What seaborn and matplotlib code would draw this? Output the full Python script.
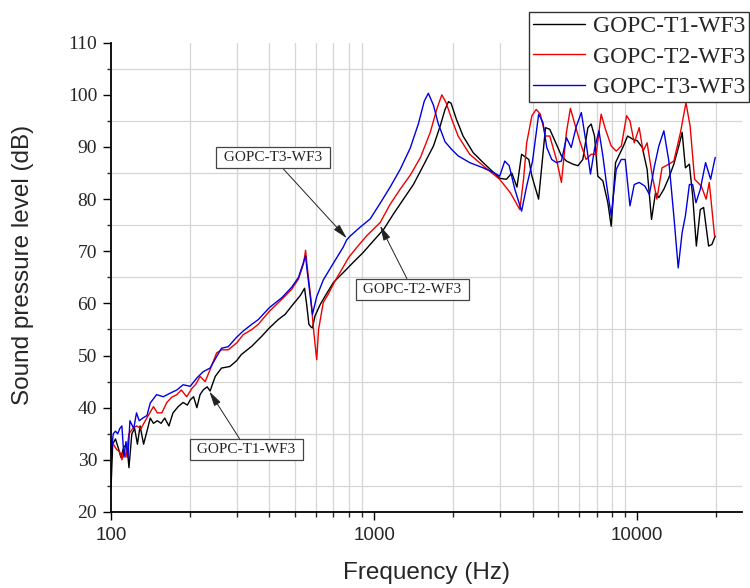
import numpy as np
import pandas as pd
import matplotlib
matplotlib.use('Agg')
import matplotlib.pyplot as plt
import seaborn as sns
from matplotlib.ticker import MultipleLocator, LogLocator, NullFormatter


# series names and colours
series_names = ['GOPC-T1-WF3', 'GOPC-T2-WF3', 'GOPC-T3-WF3']
series_colors = ['black', '#ee0000', '#0000e0']

# GOPC-T1-WF3 (Hz, dB)
t1_freq = [100, 101.5, 104, 107, 109, 112, 115, 117, 120, 123, 126, 129, 133, 137,
           141, 145, 150, 155, 160, 166, 172, 180, 188, 195, 200, 206, 212, 218,
           224, 232, 238, 249, 263, 283, 300, 313, 343, 374, 400, 432, 459, 486,
           524, 544, 555, 565, 575, 583, 596, 624, 653, 700, 763, 830, 910, 966,
           1087, 1186, 1293, 1410, 1537, 1681, 1782, 1860, 1917, 1960, 2055, 2177,
           2380, 2596, 2846, 3000, 3182, 3336, 3490, 3634, 3870, 3978, 4217, 4480,
           4650, 4930, 5150, 5380, 5700, 5950, 6210, 6490, 6680, 6880, 7080, 7400,
           7730, 7960, 8270, 8560, 8810, 9190, 9600, 10000, 10450, 10900, 11330,
           11730, 12080, 12620, 13180, 13770, 14390, 14810, 15240, 15780, 16240,
           16770, 17360, 17870, 18670, 19210, 19780]
t1_spl = [24.5, 33, 34, 32, 30.5, 32.5, 33, 28.5, 35, 36, 33, 36.5, 33, 35.5,
          38, 37, 37.5, 37, 38, 36.5, 39, 40.2, 41, 40.5, 41.5, 42.1, 40, 42.5,
          43.4, 44, 43.2, 46, 47.6, 47.9, 49, 50.2, 51.8, 53.7, 55.3, 56.9, 57.9, 59.5,
          61.5, 62.9, 59.5, 56, 55.5, 55.3, 57.6, 59.8, 61.5, 64, 65.9, 67.8, 69.8, 71.3,
          74.2, 77.2, 80, 82.8, 86.4, 90.2, 94, 97.2, 98.7, 98.4, 95.3, 92.1,
          88.9, 87, 85.1, 84, 83.8, 85, 82.3, 88.6, 87.6, 84.4, 80, 93.7,
          93.4, 90.5, 88.3, 87.3, 86.7, 86.4, 87.6, 93.7, 94.4, 92.1, 84.4, 83.5,
          79.3, 74.8, 87, 88.6, 89.9, 92.1, 91.5, 91.2, 89.9, 85.7, 76.1,
          81.2, 80.3, 81.9, 84.1, 86.7, 90.2, 92.8, 86, 86.7, 80.6,
          71, 78, 78.4, 71, 71.3, 72.9]

# GOPC-T2-WF3
t2_freq = [100, 102, 105, 108, 110, 112, 114, 117, 121, 125, 130, 135, 140, 145,
           150, 156, 163, 170, 178, 185, 194, 203, 210, 218, 228, 238, 252, 263,
           279, 300, 318, 343, 363, 400, 446, 486, 516, 539, 549, 556, 575, 590,
           605, 615, 641, 670, 710, 755, 800, 858, 938, 1054, 1150, 1256, 1372,
           1500, 1634, 1729, 1808, 1877, 1973, 2085, 2308, 2596, 3000, 3296, 3579,
           3700, 3800, 3978, 4130, 4280, 4480, 4650, 4930, 5150, 5380, 5570, 5790,
           6040, 6390, 6680, 6980, 7290, 7570, 7960, 8320, 8700, 9110, 9380, 9740,
           10170, 10520, 10900, 11410, 11880, 12420, 13180, 13770, 14600, 15310,
           15880, 16520, 17510, 18270, 18780, 19670]
t2_spl = [34, 33, 32, 31.5, 30, 32, 30.5, 35, 36, 36.5, 36, 37.5, 38.9, 40.2,
          39, 39, 41, 42, 42.5, 43.4, 42.1, 43.7, 44.5, 46, 45, 47.3, 50.5, 51.1,
          51.1, 52.4, 54, 55, 56, 58.5, 60.8, 62.7, 64.7, 67.6, 70.2, 67.3, 60.8, 54.4,
          49.2, 55, 60.2, 61.8, 64.3, 66.6, 68.8, 70.7, 73, 75.5, 79, 81.9, 84.6,
          88, 92.8, 97.2, 100, 98.5, 95.3, 92.1, 88.6, 86.4, 83.8, 81.2, 78,
          84, 90.8, 96, 97.2, 96.3, 92.1, 92.1, 87.6, 83.2, 92.8, 97.4, 94.4,
          91.2, 87.6, 88.6, 88.6, 96.3, 93.4, 90.2, 89.2, 90.2, 96, 95, 90.8,
          93.7, 89.2, 90.8, 84.4, 80, 86, 86.7, 87.3, 92.8, 98.5,
          94, 83.8, 82.5, 80, 83.2, 72.9]

# GOPC-T3-WF3
t3_freq = [100, 102, 104, 106, 108, 110, 112, 114, 116, 118, 122, 125, 128, 132,
           137, 141, 149, 158, 168, 178, 188, 200, 212, 224, 238, 252, 263, 279,
           300, 318, 343, 363, 400, 446, 486, 516, 539, 549, 556, 583, 605, 641,
           700, 763, 787, 810, 884, 966, 1054, 1150, 1256, 1372, 1474, 1551, 1607,
           1681, 1752, 1860, 1973, 2085, 2308, 2596, 2846, 3000, 3137, 3261, 3425,
           3634, 3800, 4000, 4220, 4380, 4530, 4730, 4930, 5150, 5380, 5610, 5870,
           6130, 6390, 6640, 6880, 7150, 7400, 7660, 7960, 8320, 8690, 9000, 9380,
           9740, 10170, 10690, 11120, 11630, 12080, 12620, 13180, 13770, 14310,
           14810, 15240, 15780, 16240, 16710, 17360, 18180, 19000, 19780]
t3_spl = [31, 35, 35.5, 35, 36, 36.5, 30.5, 33.5, 30.5, 37.5, 36, 39, 37.5, 38,
          38.5, 40.9, 42.5, 42.1, 42.8, 43.4, 44.4, 44.1, 45.7, 46.9, 47.6, 49.8, 51.4, 51.7,
          53.5, 54.7, 56, 56.9, 59.2, 61.1, 63.1, 65, 67.9, 69.1, 66.4, 57.9, 61.3, 64.5,
          67.7, 70.8, 72.2, 72.9, 74.6, 76.2, 79.2, 82.3, 85.7, 89.8, 94.5, 98.8, 100.3,
          98, 94.5, 91, 89.5, 88.3, 87, 86, 85.1, 84.4, 87.3, 86.4, 81.9,
          77.7, 82.5, 87.3, 96.3, 94.7, 89.9, 87.6, 87, 87.3, 91.8, 89.9, 94,
          96.6, 90.8, 84.8, 89.6, 93.1, 88.3, 82.5, 76.8, 85.7, 87.6, 87.6, 78.7,
          82.8, 83.2, 82.5, 80.9, 86.4, 90.2, 93.1, 87.3, 76.8, 66.8,
          73.6, 76.8, 82.8, 82.8, 79.3, 81.9, 87, 83.8, 88]

# callouts: (label, point on curve, text centre)
callout_labels = ['GOPC-T3-WF3', 'GOPC-T2-WF3', 'GOPC-T1-WF3']
callout_points = [(787, 72.5), (1054, 74.9), (236.5, 43.1)]
callout_text_pos = [(412, 88), (1397, 62.7), (327, 32)]


sns.set_theme(style='white')
plt.rcParams['font.family'] = ['Liberation Sans', 'DejaVu Sans']

df = pd.concat([
    pd.DataFrame({'freq': t1_freq, 'spl': t1_spl, 'series': series_names[0]}),
    pd.DataFrame({'freq': t2_freq, 'spl': t2_spl, 'series': series_names[1]}),
    pd.DataFrame({'freq': t3_freq, 'spl': t3_spl, 'series': series_names[2]}),
])

fig = plt.figure(figsize=(7.5, 5.88), dpi=100)
ax = fig.add_axes([0.148, 0.1293, 0.8413, 0.7981])

sns.lineplot(data=df, x='freq', y='spl', hue='series', hue_order=series_names,
             palette=dict(zip(series_names, series_colors)), estimator=None,
             sort=False, linewidth=1.0, legend=False, ax=ax)

ax.set_xscale('log')
ax.set_xlim(100, 25000)
ax.set_ylim(20, 110)

# ticks
ax.set_xticks([100, 1000, 10000])
ax.set_xticklabels(['100', '1000', '10000'])
ax.xaxis.set_minor_locator(LogLocator(base=10, subs=np.arange(2, 10)))
ax.xaxis.set_minor_formatter(NullFormatter())
ax.yaxis.set_major_locator(MultipleLocator(10))
ax.yaxis.set_minor_locator(MultipleLocator(5))
for lab in ax.get_yticklabels():
    lab.set_family('Liberation Serif')
    lab.set_fontsize(14)
for lab in ax.get_xticklabels():
    lab.set_fontsize(13.5)

ax.tick_params(axis='both', which='major', direction='out', length=5.5, width=1.0,
               color='black', left=True, bottom=True)
ax.tick_params(axis='y', which='major', pad=4.5)
ax.tick_params(axis='x', which='major', pad=5)
ax.tick_params(axis='y', which='minor', direction='out', length=3, width=1.0, left=True)
ax.tick_params(axis='x', which='minor', direction='out', length=3.6, width=1.0, bottom=True)

# grid only on minor positions, as in the original
ax.set_axisbelow(True)
for axis in (ax.xaxis, ax.yaxis):
    axis.grid(True, which='minor', color='#d6d6d6', linewidth=0.9)
    axis.grid(False, which='major')

sns.despine(ax=ax)
for side in ['left', 'bottom']:
    ax.spines[side].set_linewidth(1.3)
    ax.spines[side].set_color('black')

ax.set_xlabel('Frequency (Hz)', fontsize=17.5)
ax.set_ylabel('Sound pressure level (dB)', fontsize=17.5)
ax.xaxis.set_label_coords(0.5, -0.106)
ax.yaxis.set_label_coords(-0.122, 0.526)

# callout boxes with arrows
for lbl, pt, tpos in zip(callout_labels, callout_points, callout_text_pos):
    ax.annotate(' ' + lbl + ' ', xy=pt, xytext=tpos, ha='center', va='center',
                fontsize=11, family='Liberation Serif',
                bbox=dict(boxstyle='square,pad=0.25', fc='white', ec='#444444', lw=0.9),
                arrowprops=dict(arrowstyle='-|>,head_length=0.6,head_width=0.15',
                                color='#222222', lw=0.7, mutation_scale=15,
                                shrinkA=0, shrinkB=0))

# legend sits in the top right corner of the figure
handles = ax.get_lines()[:3]
leg = fig.legend(handles, series_names, loc='upper right',
                 bbox_to_anchor=(749 / 750, 1 - 12 / 588), bbox_transform=fig.transFigure,
                 prop={'family': 'Liberation Serif', 'size': 17},
                 frameon=True, fancybox=False, framealpha=1, edgecolor='#333333',
                 borderpad=0.15, labelspacing=0.38, handlelength=2.2,
                 handletextpad=0.35, borderaxespad=0)
leg.get_frame().set_linewidth(1.0)

fig.savefig('out.png', dpi=100)
